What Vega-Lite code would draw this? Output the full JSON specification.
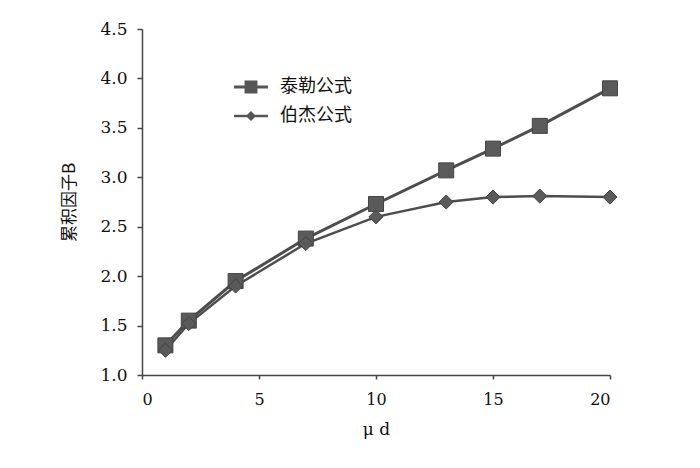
{
  "$schema": "https://vega.github.io/schema/vega-lite/v6.json",
  "autosize": {"type": "none"},
  "padding": {"left": 142, "top": 29, "right": 90, "bottom": 93},
  "width": 468,
  "height": 346,
  "background": "white",
  "config": {"view": {"stroke": null}},
  "data": {"values": [
    {"x": 1, "y": 1.30, "s": "泰勒公式"},
    {"x": 2, "y": 1.55, "s": "泰勒公式"},
    {"x": 4, "y": 1.95, "s": "泰勒公式"},
    {"x": 7, "y": 2.38, "s": "泰勒公式"},
    {"x": 10, "y": 2.73, "s": "泰勒公式"},
    {"x": 13, "y": 3.07, "s": "泰勒公式"},
    {"x": 15, "y": 3.29, "s": "泰勒公式"},
    {"x": 17, "y": 3.52, "s": "泰勒公式"},
    {"x": 20, "y": 3.90, "s": "泰勒公式"},
    {"x": 1, "y": 1.25, "s": "伯杰公式"},
    {"x": 2, "y": 1.52, "s": "伯杰公式"},
    {"x": 4, "y": 1.90, "s": "伯杰公式"},
    {"x": 7, "y": 2.33, "s": "伯杰公式"},
    {"x": 10, "y": 2.60, "s": "伯杰公式"},
    {"x": 13, "y": 2.75, "s": "伯杰公式"},
    {"x": 15, "y": 2.80, "s": "伯杰公式"},
    {"x": 17, "y": 2.81, "s": "伯杰公式"},
    {"x": 20, "y": 2.80, "s": "伯杰公式"}
  ]},
  "encoding": {
    "x": {"field": "x", "type": "quantitative",
      "scale": {"domain": [0, 20], "nice": false, "zero": false},
      "axis": {"values": [0, 5, 10, 15, 20], "title": "μ d", "grid": false,
        "domainColor": "#444", "domainWidth": 1.5, "tickColor": "#444", "tickWidth": 1.5, "tickSize": 4,
        "labelFont": "DejaVu Serif", "labelFontSize": 16, "labelColor": "#111", "labelPadding": 12,
        "titleFont": "DejaVu Serif", "titleFontSize": 17, "titleFontWeight": "normal", "titleColor": "#111", "titlePadding": 14}},
    "y": {"field": "y", "type": "quantitative",
      "scale": {"domain": [1, 4.5], "nice": false, "zero": false},
      "axis": {"values": [1, 1.5, 2, 2.5, 3, 3.5, 4, 4.5], "format": ".1f", "title": "累积因子B", "grid": false,
        "domainColor": "#444", "domainWidth": 1.5, "tickColor": "#444", "tickWidth": 1.5, "tickSize": 5,
        "labelFont": "DejaVu Serif", "labelFontSize": 17, "labelColor": "#111", "labelPadding": 10,
        "titleFont": "Noto Sans CJK SC", "titleFontSize": 17, "titleFontWeight": "normal", "titleColor": "#111", "titlePadding": 21}}
  },
  "layer": [
    {
      "transform": [{"filter": "datum.s === '泰勒公式'"}],
      "mark": {"type": "line", "color": "#4d4d4d", "strokeWidth": 3},
      "encoding": {}
    },
    {
      "transform": [{"filter": "datum.s === '伯杰公式'"}],
      "mark": {"type": "line", "color": "#4d4d4d", "strokeWidth": 2.5},
      "encoding": {}
    },
    {
      "transform": [{"filter": "datum.s === '泰勒公式'"}],
      "mark": {"type": "point", "shape": "square", "filled": true, "fill": "#5a5a5a", "stroke": "#444", "strokeWidth": 1, "opacity": 1, "size": 225},
      "encoding": {}
    },
    {
      "transform": [{"filter": "datum.s === '伯杰公式'"}],
      "mark": {"type": "point", "shape": "diamond", "filled": true, "fill": "#5a5a5a", "stroke": "#444", "strokeWidth": 1, "opacity": 1, "size": 200},
      "encoding": {}
    },
    {
      "mark": {"type": "point", "filled": true, "fill": "#555555", "opacity": 0},
      "encoding": {
        "shape": {"field": "s", "type": "nominal",
          "scale": {"domain": ["泰勒公式", "伯杰公式"], "range": ["M-1,-0.09H1V0.09H-1ZM-0.38,-0.38H0.38V0.38H-0.38Z", "M-1,-0.075H1V0.075H-1ZM0,-0.3L0.3,0L0,0.3L-0.3,0Z"]},
          "legend": {"title": null, "orient": "none", "legendX": 92, "legendY": 41,
            "symbolSize": 1156, "symbolOpacity": 1, "symbolFillColor": "#555555", "symbolStrokeWidth": 0,
            "labelFont": "Noto Sans CJK SC", "labelFontSize": 18, "labelColor": "#111",
            "labelOffset": 12, "rowPadding": 3}}
      }
    }
  ]
}
